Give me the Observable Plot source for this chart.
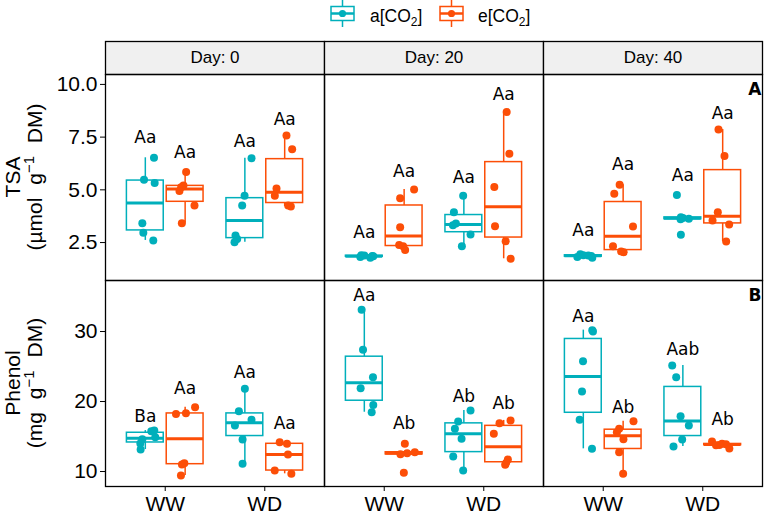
<!DOCTYPE html>
<html>
<head>
<meta charset="utf-8">
<script src="https://cdn.jsdelivr.net/npm/d3@7"></script>
<script src="https://cdn.jsdelivr.net/npm/@observablehq/plot@0.6"></script>
<style>
  html, body { margin: 0; padding: 0; background: white; overflow: hidden; }
  #chart { position: relative; width: 765px; height: 514px; font-family: "Liberation Sans", Arial, sans-serif; }
  #chart > * { position: absolute; left: 0; }
</style>
</head>
<body>
<div id="chart"></div>
<script>
// ---------- data ----------
const days = ["Day: 0", "Day: 20", "Day: 40"];
const treatments = ["WW", "WD"];
const co2Levels = ["a[CO2]", "e[CO2]"];
const colors = ["#00AFBB", "#FC4E07"];

// each day: [WW a[CO2], WW e[CO2], WD a[CO2], WD e[CO2]]
const tsaDay0 = [[6.52,5.48,5.32,3.42,2.96,2.60],[5.84,5.21,5.12,4.95,4.26,3.42],[6.50,4.72,4.26,2.83,2.67,2.52],[7.58,6.92,5.06,4.72,4.26,4.21]];
const tsaDay20 = [[1.90,1.88,1.86,1.85,1.82,1.78],[5.02,4.60,3.23,2.38,2.32,2.15],[4.72,3.94,3.40,3.32,2.88,2.33],[8.69,6.71,5.13,3.27,2.56,1.73]];
const tsaDay40 = [[1.95,1.90,1.88,1.86,1.82,1.78],[5.24,4.81,3.26,2.33,2.04,2.08],[4.76,3.70,3.67,3.63,3.60,2.87],[7.86,6.60,3.94,3.55,3.36,2.55]];

const phenolDay0 = [[15.85,15.75,14.9,14.6,14.0,13.14],[19.19,18.33,18.2,11.19,11.0,9.43],[21.81,18.61,17.38,16.57,14.57,11.1],[14.19,13.96,12.43,10.14,9.67]];
const phenolDay20 = [[33.1,27.38,23.48,21.9,19.52,18.47],[13.96,12.75,12.6,12.45,9.81],[18.71,17.14,16.1,14.67,12.14,10.14],[17.3,16.9,15.4,11.7,11.2,10.95]];
const phenolDay40 = [[30.2,30.0,25.75,21.43,17.38,13.24],[17.19,16.1,15.6,14.6,12.76,9.67],[25.14,23.48,17.9,16.57,14.57,13.57],[14.3,13.95,13.9,13.8,13.75,13.3]];

// horizontal jitter of each point (x units) as seen in the reference
const tsaJit0 = [[0.087,-0.013,0.094,-0.03,-0.02,0.08],[0.01,-0.017,-0.04,-0.057,0.094,-0.033],[0.067,-0.003,-0.027,-0.094,-0.077,-0.104],[0.018,0.075,-0.082,-0.099,0.035,0.062]];
const tsaJit20 = [[-0.03,0.0,0.08,0.09,-0.04,0.06],[0.10,-0.04,-0.04,-0.05,-0.01,0.01],[-0.007,-0.1,-0.08,-0.11,0.067,-0.02],[0.03,0.057,-0.094,-0.087,0.02,0.07]];
const tsaJit40 = [[-0.03,0.0,0.05,0.08,-0.06,0.09],[-0.035,-0.089,0.099,-0.102,0.005,-0.02],[-0.06,-0.02,0.0,0.06,-0.023,-0.02],[-0.042,0.018,-0.049,-0.102,0.065,0.035]];
const phenolJit0 = [[0.09,0.06,0.1,-0.03,-0.05,-0.047],[0.1,0.008,-0.092,-0.008,-0.032,-0.042],[0,-0.06,0.067,-0.1,-0.023,-0.023],[-0.05,0.023,0.033,-0.1,0.067]];
const phenolJit20 = [[-0.027,-0.013,0.087,-0.037,0.09,0.074],[0.007,0.107,0.03,-0.037,-0.003],[0.067,-0.057,-0.09,-0.023,-0.107,-0.007],[0.069,-0.042,-0.099,0.042,0.025,0.015]];
const phenolJit40 = [[0.09,0.097,-0.003,-0.013,-0.037,0.087],[0.104,-0.04,-0.063,0.003,-0.04,0],[-0.107,-0.067,-0.023,0.06,-0.007,-0.094],[-0.107,-0.007,0.033,-0.033,-0.067,0.067]];

// significance letters and their heights
const tsaLetters = [["Aa","Aa","Aa","Aa"],["Aa","Aa","Aa","Aa"],["Aa","Aa","Aa","Aa"]];
const tsaLetterY = [[7.5,6.79,7.29,8.32],[2.96,5.89,5.57,9.53],[3.07,6.19,5.68,8.64]];
const phenolLetters = [["Ba","Aa","Aa","Aa"],["Aa","Ab","Ab","Ab"],["Aa","Ab","Aab","Ab"]];
const phenolLetterY = [[17.9,21.8,24.1,16.81],[35.14,16.81,20.71,19.76],[32.19,19.19,27.43,17.38]];

const tsaTicks = [2.5, 5, 7.5, 10];
const phenolTicks = [10, 20, 30];

// ---------- build tables ----------
const DODGE = 0.2, HALF = 0.185;
function build(dayArrays, jitArrays, letters, letterY) {
  const boxes = [], whiskers = [], points = [], labels = [];
  dayArrays.forEach((groups, i) => {
    groups.forEach((vals, g) => {
      const j = Math.floor(g / 2), k = g % 2;
      const pos = j + 1 + (k ? DODGE : -DODGE);
      const s = vals.slice().sort(d3.ascending);
      const q1 = d3.quantile(s, 0.25), med = d3.quantile(s, 0.5), q3 = d3.quantile(s, 0.75);
      const iqr = q3 - q1;
      const lo = d3.min(s.filter(v => v >= q1 - 1.5 * iqr));
      const hi = d3.max(s.filter(v => v <= q3 + 1.5 * iqr));
      const base = {day: days[i], treatment: treatments[j], co2: co2Levels[k], pos};
      boxes.push({...base, q1, med, q3, xl: pos - HALF, xr: pos + HALF});
      whiskers.push({...base, y1: lo, y2: q1}, {...base, y1: q3, y2: hi});
      vals.forEach((v, n) => points.push({...base, value: v, px: pos + jitArrays[i][g][n]}));
      labels.push({...base, text: letters[i][g], y: letterY[i][g]});
    });
  });
  return {boxes, whiskers, points, labels};
}

const tsa = build([tsaDay0, tsaDay20, tsaDay40], [tsaJit0, tsaJit20, tsaJit40], tsaLetters, tsaLetterY);
const phenol = build([phenolDay0, phenolDay20, phenolDay40], [phenolJit0, phenolJit20, phenolJit40], phenolLetters, phenolLetterY);

const baseStyle = {fontFamily: "Liberation Sans, Arial, sans-serif", fontSize: "21px", color: "black", background: "transparent", overflow: "visible"};

function rowPlot(d, {yDomain, yTicks, yFormat, showX, height, marginBottom, tag}) {
  return Plot.plot({
    width: 765, height, marginLeft: 105, marginRight: 3, marginTop: 1, marginBottom,
    style: baseStyle,
    fx: {domain: days, padding: 0, axis: null},
    x: {domain: [0.4, 2.6], axis: null},
    y: {domain: yDomain},
    color: {domain: co2Levels, range: colors},
    marks: [
      Plot.axisY({ticks: yTicks, tickFormat: yFormat, tickSize: 5, tickPadding: 3, fontSize: 21, label: null}),
      showX ? Plot.axisX({ticks: [1, 2], tickFormat: v => treatments[v - 1], tickSize: 5, tickPadding: 5, fontSize: 21, label: null}) : null,
      Plot.ruleX(d.whiskers, {fx: "day", x: "pos", y1: "y1", y2: "y2", stroke: "co2", strokeWidth: 1.5}),
      Plot.rect(d.boxes, {fx: "day", x1: "xl", x2: "xr", y1: "q1", y2: "q3", fill: "white", stroke: "co2", strokeWidth: 1.5}),
      Plot.ruleY(d.boxes, {fx: "day", y: "med", x1: "xl", x2: "xr", stroke: "co2", strokeWidth: 3}),
      Plot.dot(d.points, {fx: "day", x: "px", y: "value", r: 4, fill: "co2", stroke: "none"}),
      Plot.text(d.labels, {fx: "day", x: "pos", y: "y", text: "text", fontSize: 17, fontFamily: "DejaVu Sans", fill: "black"}),
      Plot.text([{day: "Day: 40", t: tag}], {fx: "day", text: "t", frameAnchor: "top-right", dx: -1, dy: 8, fontWeight: "bold", fontSize: 17, fontFamily: "DejaVu Sans", fill: "black"}),
      Plot.frame({stroke: "black", strokeWidth: 1.3})
    ]
  });
}

const chart = document.getElementById("chart");

// strip (facet labels)
const stripPlot = Plot.plot({
  width: 765, height: 35, marginLeft: 105, marginRight: 3, marginTop: 1, marginBottom: 1,
  style: baseStyle,
  fx: {domain: days, padding: 0, axis: null},
  marks: [
    Plot.frame({fill: "#F0F0F0", stroke: "black", strokeWidth: 1.3}),
    Plot.text(days, {fx: d => d, text: d => d, frameAnchor: "middle", fontSize: 17, fill: "black"})
  ]
});
stripPlot.style.top = "40px";
chart.appendChild(stripPlot);

const topPlot = rowPlot(tsa, {yDomain: [0.70, 10.47], yTicks: tsaTicks, yFormat: d3.format(".1f"), showX: false, height: 208, marginBottom: 1, tag: "A"});
topPlot.style.top = "73px";
chart.appendChild(topPlot);

const bottomPlot = rowPlot(phenol, {yDomain: [7.86, 37.29], yTicks: phenolTicks, yFormat: d3.format("d"), showX: true, height: 235, marginBottom: 28, tag: "B"});
bottomPlot.style.top = "279px";
chart.appendChild(bottomPlot);

// ---------- overlay: legend and y titles ----------
const ov = d3.select(chart).append("svg")
  .attr("width", 765).attr("height", 514)
  .style("top", "0px").style("pointer-events", "none")
  .style("font-family", "Liberation Sans, Arial, sans-serif");

const keys = [{x: 331, tx: 370, label: "a", c: colors[0]}, {x: 440, tx: 478, label: "e", c: colors[1]}];
keys.forEach(k => {
  const cx = k.x + 11.5;
  ov.append("line").attr("x1", cx).attr("x2", cx).attr("y1", 0).attr("y2", 6.5).attr("stroke", k.c).attr("stroke-width", 1.5);
  ov.append("line").attr("x1", cx).attr("x2", cx).attr("y1", 20.5).attr("y2", 27).attr("stroke", k.c).attr("stroke-width", 1.5);
  ov.append("rect").attr("x", k.x).attr("y", 6.5).attr("width", 23).attr("height", 14).attr("fill", "white").attr("stroke", k.c).attr("stroke-width", 1.5);
  ov.append("line").attr("x1", k.x).attr("x2", k.x + 23).attr("y1", 13.5).attr("y2", 13.5).attr("stroke", k.c).attr("stroke-width", 2.5);
  ov.append("circle").attr("cx", cx).attr("cy", 13.5).attr("r", 3.6).attr("fill", k.c);
  const t = ov.append("text").attr("x", k.tx).attr("y", 21.5).attr("font-size", 17.5).attr("fill", "black");
  t.append("tspan").text(k.label + "[CO");
  t.append("tspan").attr("dy", 4).attr("font-size", 12).text("2");
  t.append("tspan").attr("dy", -4).text("]");
});

function yTitle(line1, unitPre, cy) {
  ov.append("text").attr("transform", `translate(20,${cy}) rotate(-90)`).attr("text-anchor", "middle")
    .attr("font-size", 21).attr("fill", "black").text(line1);
  const t = ov.append("text").attr("transform", `translate(42,${cy}) rotate(-90)`).attr("text-anchor", "middle")
    .attr("font-size", 21).attr("fill", "black");
  t.append("tspan").text("(" + unitPre);
  t.append("tspan").attr("dx", 7).text(" g");
  t.append("tspan").attr("dy", -8).attr("font-size", 15).text("\u22121");
  t.append("tspan").attr("dy", 8).attr("dx", 7).text(" DM)");
}
yTitle("TSA", "\u00B5mol", 177);
yTitle("Phenol", "mg", 383);
</script>
</body>
</html>
